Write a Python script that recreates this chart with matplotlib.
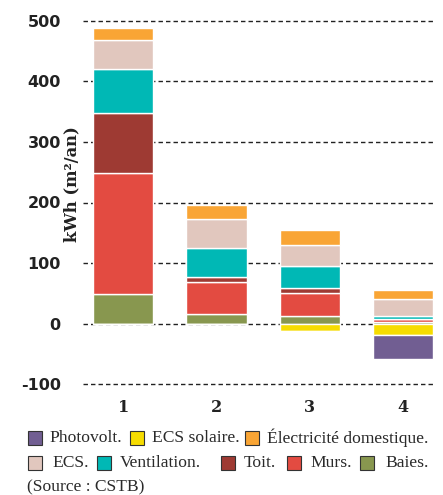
import matplotlib
matplotlib.use("Agg")
import matplotlib.pyplot as plt
from matplotlib.patches import Rectangle
import numpy as np

# Scenarios
scenarios = ["1", "2", "3", "4"]

# Consumption (positive, kWh/m²/an), stacked bottom to top
baies = [49, 15, 12, 2]
murs = [200, 53, 39, 5]
toit = [99, 9, 7, 1]
ventilation = [73, 48, 37, 4]
ecs = [47, 47, 34, 28]
electricite = [21, 24, 25, 15]

# Production (negative), stacked downward from zero
ecs_solaire = [0, 0, -13, -19]
photovolt = [0, 0, 0, -39]

y_ticks = [-100, 0, 100, 200, 300, 400, 500]

colors = {
    "Photovolt.": "#715e92",
    "ECS solaire.": "#f6dc00",
    "Électricité domestique.": "#f9a535",
    "ECS.": "#e1c7be",
    "Ventilation.": "#00b8b5",
    "Toit.": "#9e3a33",
    "Murs.": "#e34b41",
    "Baies.": "#88974f",
}

W, H = 443, 495
fig = plt.figure(figsize=(W / 100, H / 100), dpi=100)
ax = fig.add_axes([83 / W, 1 - 386 / H, (435 - 83) / W, (386 - 19) / H])

x = np.arange(len(scenarios))
bw = 0.645

pos_stack = [
    ("Baies.", baies),
    ("Murs.", murs),
    ("Toit.", toit),
    ("Ventilation.", ventilation),
    ("ECS.", ecs),
    ("Électricité domestique.", electricite),
]
bottom = np.zeros(len(x))
for name, vals in pos_stack:
    v = np.array(vals, dtype=float)
    ax.bar(x, v, bw, bottom=bottom, color=colors[name],
           edgecolor="white", linewidth=1.0, zorder=3)
    bottom += v

neg_stack = [("ECS solaire.", ecs_solaire), ("Photovolt.", photovolt)]
bottom = np.zeros(len(x))
for name, vals in neg_stack:
    v = np.array(vals, dtype=float)
    ax.bar(x, v, bw, bottom=bottom, color=colors[name],
           edgecolor="white", linewidth=1.0, zorder=3)
    bottom += v

ax.set_xlim(-0.43, 3.34)
ax.set_ylim(-103.3, 503.3)
ax.set_yticks(y_ticks)
ax.set_yticklabels([str(t) for t in y_ticks])
for t in y_ticks:
    ax.axhline(t, color="#222222", linestyle=(0, (3.2, 2.2)), linewidth=1.0, zorder=1)

ax.set_xticks(x)
ax.set_xticklabels(scenarios)
for spine in ax.spines.values():
    spine.set_visible(False)
ax.tick_params(axis="both", length=0)
ax.tick_params(axis="y", pad=16)
ax.tick_params(axis="x", pad=9)
for lab in ax.get_yticklabels():
    lab.set_fontfamily("DejaVu Sans")
    lab.set_fontweight("bold")
    lab.set_fontsize(11.5)
    lab.set_color("#222222")
for lab in ax.get_xticklabels():
    lab.set_fontfamily("DejaVu Serif")
    lab.set_fontweight("bold")
    lab.set_fontsize(11.5)
    lab.set_color("#222222")

fig.text(72 / W, 1 - 184 / H, "kWh (m²/an)", rotation=90, ha="center", va="center",
         fontfamily="DejaVu Serif", fontweight="bold", fontsize=11.8, color="#222222")

# Legend drawn in figure pixels
legend_rows = [
    (438, [(28, 49, "Photovolt."), (130, 152, "ECS solaire."),
           (245, 267, "Électricité domestique.")]),
    (463, [(28, 52, "ECS."), (97, 120, "Ventilation."), (221, 244, "Toit."),
           (287, 310, "Murs."), (360, 385, "Baies.")]),
]
sq = 14
for yc, items in legend_rows:
    for xs, xt, name in items:
        fig.patches.append(Rectangle((xs / W, (H - yc - sq / 2) / H), sq / W, sq / H,
                                     transform=fig.transFigure, facecolor=colors[name],
                                     edgecolor="#333333", linewidth=0.8))
        fig.text(xt / W, 1 - yc / H, name, ha="left", va="center",
                 fontfamily="Liberation Serif", fontsize=12.6, color="#2a2a2a")

fig.text(27 / W, 1 - 487 / H, "(Source : CSTB)", ha="left", va="center",
         fontfamily="Liberation Serif", fontsize=12.6, color="#2a2a2a")

fig.savefig("out.png", dpi=100)
